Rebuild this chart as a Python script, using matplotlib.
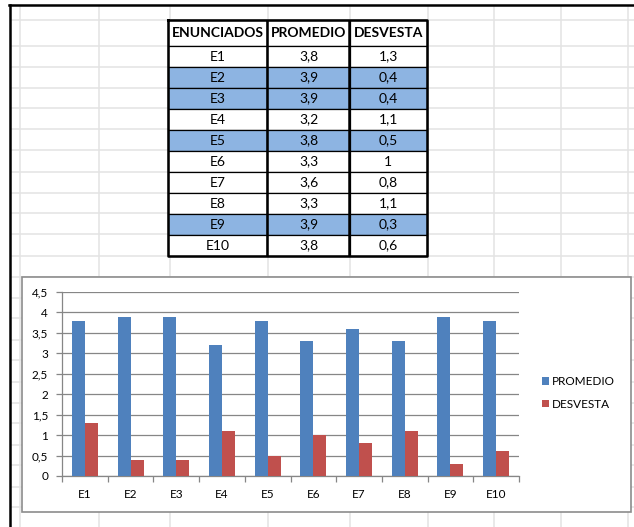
import numpy as np
import matplotlib
matplotlib.use("Agg")
import matplotlib.pyplot as plt
from matplotlib.patches import Rectangle

# datos de la tabla / grafico
enunciados = ['E1', 'E2', 'E3', 'E4', 'E5', 'E6', 'E7', 'E8', 'E9', 'E10']
promedio = [3.8, 3.9, 3.9, 3.2, 3.8, 3.3, 3.6, 3.3, 3.9, 3.8]
desvesta = [1.3, 0.4, 0.4, 1.1, 0.5, 1.0, 0.8, 1.1, 0.3, 0.6]
resaltados = ['E2', 'E3', 'E5', 'E9']
columnas = ['ENUNCIADOS', 'PROMEDIO', 'DESVESTA']
y_ticks = [0, 0.5, 1, 1.5, 2, 2.5, 3, 3.5, 4, 4.5]


def coma(v):
    # formato con coma decimal como en Excel
    return f'{v:g}'.replace('.', ',')


plt.rcParams['font.family'] = ['Lato', 'DejaVu Sans']

W, H = 634, 527
fig = plt.figure(figsize=(W / 100, H / 100), dpi=100)

# fondo: la hoja de calculo (pixeles)
bg = fig.add_axes([0, 0, 1, 1])
bg.set_xlim(0, W)
bg.set_ylim(H, 0)
bg.axis('off')
col_lines = [20, 99, 170, 268, 350, 428, 494, 561, 628]
row_lines = [20, 46, 67, 88, 108, 129, 150, 172, 193, 213, 234, 256, 277,
             298, 318, 340, 360, 382, 403, 423, 445, 465, 487, 507]
bg.vlines(col_lines, 6, H, color='#e3e3e3', lw=1.1, zorder=0)
bg.hlines(row_lines, 10, W, color='#e3e3e3', lw=1.1, zorder=0)
bg.plot([9, W], [5, 5], color='black', lw=1.8, zorder=1)
bg.plot([9.5, 9.5], [5, H], color='black', lw=1.8, zorder=1)

# tabla
filas = [[e, coma(p), coma(d)] for e, p, d in zip(enunciados, promedio, desvesta)]
colores = [['#8db4e2'] * 3 if e in resaltados else ['white'] * 3 for e in enunciados]
tbl = bg.table(cellText=filas, colLabels=columnas, cellColours=colores,
               cellLoc='center', colWidths=[99, 82, 77],
               bbox=[168 / W, 1 - 256 / H, 259 / W, 236 / H])
tbl.auto_set_font_size(False)
tbl.set_fontsize(10)
for (r, c), cell in tbl.get_celld().items():
    cell.set_linewidth(0.9)
    cell.set_edgecolor('black')
    if r == 0:
        cell.set_height(cell.get_height() * 26 / 21)
        cell.get_text().set_fontweight('bold')
tbl.set_zorder(2)
bg.plot([168, 427, 427, 168, 168], [20, 20, 256, 256, 20], color='black', lw=1.8, zorder=3)
bg.vlines([267, 349], 20, 256, color='black', lw=1.8, zorder=3)

# area del grafico
bg.add_patch(Rectangle((22, 277), 609, 235, facecolor='white',
                       edgecolor='#8c8c8c', lw=1.2, zorder=4))

ax = fig.add_axes([62 / W, 1 - 476 / H, 457 / W, 184 / H])
ax.patch.set_alpha(0)
x = np.arange(len(enunciados))
w = 0.285
ax.bar(x - w / 2, promedio, w, color='#4f81bd', label='PROMEDIO', zorder=3)
ax.bar(x + w / 2, desvesta, w, color='#c0504d', label='DESVESTA', zorder=3)
ax.set_xlim(-0.5, len(enunciados) - 0.5)
ax.set_ylim(0, 4.5)
ax.set_yticks(y_ticks)
ax.set_yticklabels([coma(v) for v in y_ticks])
ax.yaxis.grid(True, color='#868686', lw=0.9)
ax.set_axisbelow(True)
for s in ['top', 'right']:
    ax.spines[s].set_visible(False)
for s in ['left', 'bottom']:
    ax.spines[s].set_color('#868686')
    ax.spines[s].set_linewidth(0.9)
ax.set_xticks(x)
ax.set_xticklabels(enunciados)
ax.set_xticks(np.arange(-0.5, len(enunciados), 1), minor=True)
ax.tick_params(axis='x', which='major', length=0, pad=9, labelsize=8.5)
ax.tick_params(axis='x', which='minor', length=4, color='#868686', width=0.9)
ax.tick_params(axis='y', length=4, color='#868686', width=0.9, pad=6, labelsize=8.5)

ax.legend(loc='center left', bbox_to_anchor=(537 / W, 1 - 393 / H),
          bbox_transform=fig.transFigure, frameon=False, handlelength=0.6,
          handleheight=0.6, handletextpad=0.3, labelspacing=1.0,
          borderaxespad=0, fontsize=8.5)

fig.savefig('out.png', dpi=100)
